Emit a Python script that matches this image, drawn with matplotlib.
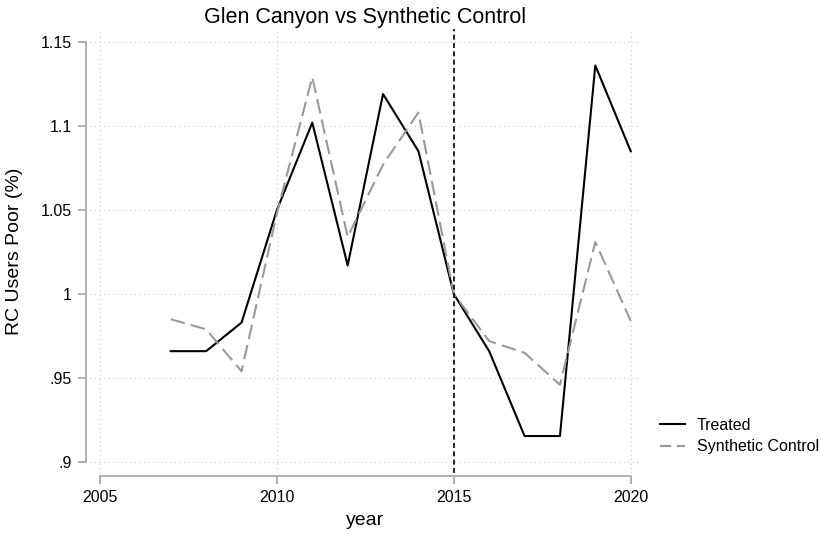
import numpy as np
import matplotlib
matplotlib.use("Agg")
import matplotlib.pyplot as plt
from matplotlib.lines import Line2D

plt.rcParams['font.family'] = ['Liberation Sans', 'DejaVu Sans']

years = [2007, 2008, 2009, 2010, 2011, 2012, 2013, 2014,
         2015, 2016, 2017, 2018, 2019, 2020]
treated = [0.966, 0.966, 0.983, 1.050, 1.102, 1.017, 1.119, 1.085,
           1.000, 0.966, 0.9155, 0.9155, 1.136, 1.085]
synthetic = [0.985, 0.979, 0.954, 1.048, 1.129, 1.034, 1.077, 1.108,
             1.000, 0.972, 0.965, 0.946, 1.031, 0.984]

xticks = [2005, 2010, 2015, 2020]
yticks = [0.9, 0.95, 1.0, 1.05, 1.1, 1.15]
ytick_labels = ['.9', '.95', '1', '1.05', '1.1', '1.15']
treat_year = 2015

W, H = 821, 535
fig = plt.figure(figsize=(W / 100, H / 100), dpi=100)
ax = fig.add_axes([90 / W, 1 - 473 / H, 550 / W, 444 / H])

ax.plot(years, treated, color='black', lw=1.5)
ax.plot(years, synthetic, color='#999999', lw=1.5, dashes=(7, 3))
ax.axvline(treat_year, color='black', lw=1.2, dashes=(3, 2))

ax.set_xlim(2004.717, 2020.263)
ax.set_ylim(0.8935, 1.1577)
ax.set_xticks(xticks)
ax.set_yticks(yticks)
ax.set_yticklabels(ytick_labels)
ax.grid(True, color='#cccccc', lw=0.8, ls=(0, (1, 3)))

for s in ['top', 'right']:
    ax.spines[s].set_visible(False)
ax.spines['left'].set_bounds(0.9, 1.15)
ax.spines['bottom'].set_bounds(2005, 2020)
ax.spines['left'].set_position(('outward', 3))
ax.spines['bottom'].set_position(('outward', 2))
for s in ['left', 'bottom']:
    ax.spines[s].set_color('#aaaaaa')
    ax.spines[s].set_linewidth(1.3)
ax.tick_params(axis='both', color='#aaaaaa', width=1.3, length=6,
               labelsize=11.5, labelcolor='black', pad=4)

ax.set_title('Glen Canyon vs Synthetic Control', fontsize=15.5, pad=4)
ax.set_xlabel('year', fontsize=14, labelpad=5)
ax.set_ylabel('RC Users Poor (%)', fontsize=14, labelpad=13)

# legend handles drawn separately so the dash pattern fits the short key
handles = [Line2D([], [], color='black', lw=1.5),
           Line2D([], [], color='#999999', lw=1.5, dashes=(5.3, 2.7))]
fig.legend(handles, ['Treated', 'Synthetic Control'], loc='upper left',
           bbox_to_anchor=(660 / W, 1 - 418 / H), frameon=False,
           fontsize=11.5, handlelength=1.55, handletextpad=0.75,
           labelspacing=0.4, borderpad=0, borderaxespad=0)

fig.savefig('out.png', dpi=100)
